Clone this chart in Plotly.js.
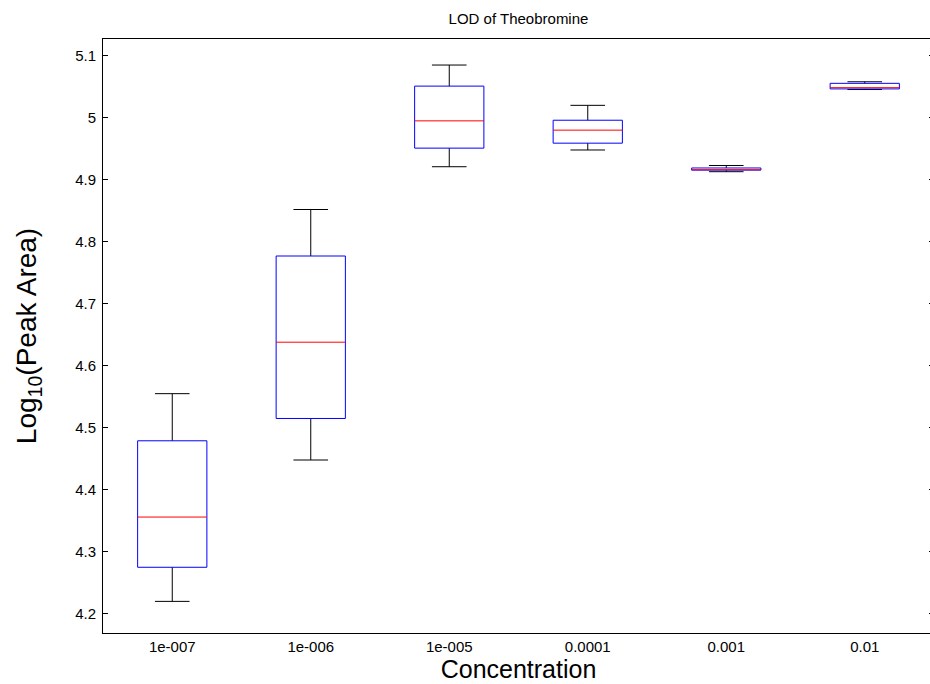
<!DOCTYPE html>
<html>
<head>
<meta charset="utf-8">
<script src="https://cdn.plot.ly/plotly-3.0.1.min.js"></script>
<style>
html, body { margin: 0; padding: 0; overflow: hidden; background: #fff; }
#chart { width: 934px; height: 684px; }
</style>
</head>
<body>
<div id="chart"></div>
<script>
// Data
const categories = ["1e-007", "1e-006", "1e-005", "0.0001", "0.001", "0.01"];
const positions  = [1, 2, 3, 4, 5, 6];
const upperWhisker = [4.555, 4.852, 5.085, 5.020, 4.923, 5.058];
const q3Values     = [4.479, 4.777, 5.051, 4.996, 4.919, 5.0555];
const medianValues = [4.356, 4.638, 4.995, 4.980, 4.9162, 5.0485];
const q1Values     = [4.275, 4.515, 4.951, 4.959, 4.9155, 5.0465];
const lowerWhisker = [4.220, 4.448, 4.921, 4.948, 4.913, 5.0455];
const yTicks = [4.2, 4.3, 4.4, 4.5, 4.6, 4.7, 4.8, 4.9, 5, 5.1];

const halfBox = 0.25, halfCap = 0.125;
const traces = [];

// Whiskers (black)
positions.forEach((p, i) => {
  traces.push({
    type: "scatter", mode: "lines",
    x: [p, p, null, p - halfCap, p + halfCap, null, p, p, null, p - halfCap, p + halfCap],
    y: [q3Values[i], upperWhisker[i], null, upperWhisker[i], upperWhisker[i], null,
        q1Values[i], lowerWhisker[i], null, lowerWhisker[i], lowerWhisker[i]],
    line: { color: "#000000", width: 1 },
    hoverinfo: "skip", showlegend: false
  });
});

// Boxes (blue outline)
positions.forEach((p, i) => {
  traces.push({
    type: "scatter", mode: "lines",
    x: [p - halfBox, p + halfBox, p + halfBox, p - halfBox, p - halfBox],
    y: [q1Values[i], q1Values[i], q3Values[i], q3Values[i], q1Values[i]],
    line: { color: "#0000ff", width: 1 },
    hoverinfo: "skip", showlegend: false
  });
});

// Medians (red)
positions.forEach((p, i) => {
  traces.push({
    type: "scatter", mode: "lines",
    x: [p - halfBox, p + halfBox],
    y: [medianValues[i], medianValues[i]],
    line: { color: "#ff0000", width: 1 },
    hoverinfo: "skip", showlegend: false
  });
});

const font = "Liberation Sans, Arial, Helvetica, sans-serif";

const layout = {
  width: 934, height: 684,
  margin: { l: 103, r: 0, t: 39, b: 51 },
  paper_bgcolor: "#ffffff",
  plot_bgcolor: "#ffffff",
  showlegend: false,
  font: { family: font, color: "#000000" },
  title: {
    text: "LOD of Theobromine",
    font: { family: font, size: 15, color: "#000000" },
    x: 0.5, xref: "paper", xanchor: "center",
    y: 1, yref: "paper", yanchor: "bottom", pad: { b: 15 }
  },
  xaxis: {
    range: [0.5, 6.5],
    tickmode: "array",
    tickvals: positions,
    ticktext: categories,
    ticks: "",
    showgrid: false, zeroline: false,
    showline: true, linecolor: "#000000", linewidth: 1, mirror: true,
    tickfont: { family: font, size: 15, color: "#000000" },
    title: { text: "Concentration", font: { family: font, size: 25, color: "#000000" }, standoff: 3 }
  },
  yaxis: {
    range: [4.169, 5.127],
    tickmode: "array",
    tickvals: yTicks,
    ticktext: yTicks.map(v => String(v)),
    ticks: "inside", ticklen: 5, tickcolor: "#000000", tickwidth: 1,
    showgrid: false, zeroline: false,
    showline: true, linecolor: "#000000", linewidth: 1, mirror: "allticks",
    tickfont: { family: font, size: 15, color: "#000000" },
    ticklabelstandoff: 3,
    title: { text: "Log<sub>10</sub>(Peak Area)", font: { family: font, size: 28, color: "#000000" }, standoff: 30 }
  }
};

Plotly.newPlot("chart", traces, layout, { staticPlot: true, displayModeBar: false });
</script>
</body>
</html>
